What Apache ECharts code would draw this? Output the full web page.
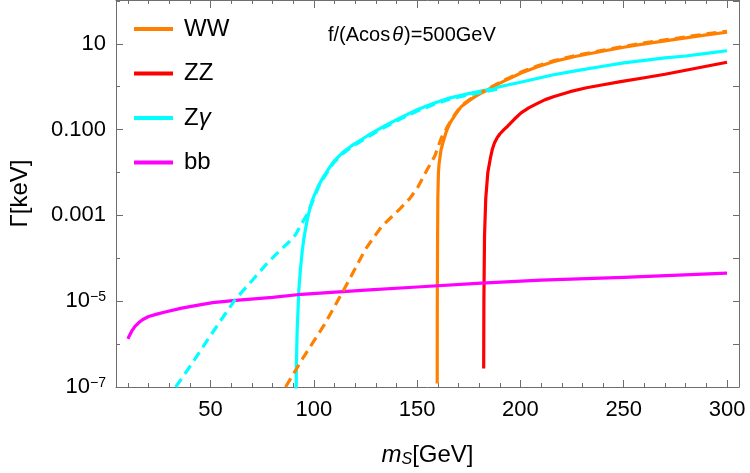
<!DOCTYPE html>
<html>
<head>
<meta charset="utf-8">
<script src="https://cdn.jsdelivr.net/npm/echarts@6.0.0/dist/echarts.min.js"></script>
<style>
  html, body { margin: 0; padding: 0; background: #fff; }
  #chart { width: 750px; height: 473px; }
</style>
</head>
<body>
<div id="chart"></div>
<script>
// decay widths Γ [keV] vs m_S [GeV]
const wwSolid = [
  [159.7, 1.2e-7], [159.75, 1e-5], [159.85, 1.6e-4], [160.0, 2.5e-3], [160.3, 1.0e-2],
  [160.6, 1.58e-2], [161.5, 3.3e-2], [162.5, 5.0e-2], [164, 8.7e-2], [166, 0.145],
  [168.5, 0.224], [171.4, 0.347], [175, 0.468], [178, 0.589], [181, 0.708],
  [184.2, 0.851], [188, 1.07], [192, 1.35], [196, 1.66], [200.3, 2.09],
  [208, 2.88], [216.3, 3.89], [227, 5.13], [239, 6.61], [250, 8.32],
  [260, 10], [270, 11.7], [280, 13.8], [290, 16.2], [300, 18.6]
];
const wwDashed = [
  [86.3, 1.0e-7], [95, 5.0e-7], [105, 2.8e-6], [112.8, 1.32e-5], [118, 3.8e-5],
  [124.8, 1.58e-4], [128.8, 3.0e-4], [132.8, 5.5e-4], [137.7, 9.3e-4], [142, 1.48e-3],
  [146.5, 2.5e-3], [150.5, 4.7e-3], [152.1, 6.6e-3], [155, 1.2e-2], [158.5, 2.4e-2],
  [161.8, 6.6e-2], [163.3, 8.7e-2], [165, 0.126], [168.5, 0.235], [171.4, 0.36],
  [175, 0.49], [178, 0.61], [181, 0.74], [184.2, 0.89], [188, 1.12],
  [192, 1.41], [196, 1.74], [200.3, 2.19], [208, 3.02], [216.3, 4.07],
  [227, 5.37], [239, 6.92], [250, 8.7], [260, 10.5], [270, 12.3],
  [280, 14.5], [290, 17], [300, 19.5]
];
const zzSolid = [
  [182.2, 2.7e-7], [182.3, 1e-5], [182.6, 3.2e-4], [183.2, 2.5e-3], [184.2, 1e-2],
  [185.5, 2.24e-2], [186.4, 3.5e-2], [187.4, 4.9e-2], [188.6, 6.3e-2], [190, 7.9e-2],
  [192, 0.1], [193.8, 0.12], [197, 0.174], [200.3, 0.245], [204, 0.32],
  [208, 0.403], [212, 0.50], [216.3, 0.594], [224, 0.766], [232, 0.948],
  [240, 1.11], [248.5, 1.31], [260, 1.62], [270, 1.95], [285, 2.69], [300, 3.72]
];
const zgSolid = [
  [91.2, 1e-9], [91.5, 3e-7], [91.9, 2e-6], [92.7, 1.8e-5], [93.5, 5.6e-5],
  [94.3, 1.4e-4], [95.1, 2.8e-4], [96, 5.0e-4], [97, 8.9e-4], [98, 1.4e-3],
  [99, 2.1e-3], [100, 2.8e-3], [101, 3.6e-3], [102.3, 5.0e-3], [104, 7.1e-3],
  [106, 1.0e-2], [108, 1.41e-2], [110, 1.9e-2], [114, 2.95e-2], [118, 4.1e-2],
  [126, 7.2e-2], [134, 0.12], [142, 0.19], [150, 0.29], [158, 0.41],
  [166, 0.55], [175, 0.69], [184, 0.85], [192, 1.05], [200, 1.27],
  [208, 1.55], [216, 1.9], [228, 2.4], [240, 3.0], [250, 3.6],
  [260, 4.1], [270, 4.7], [280, 5.2], [290, 6.0], [300, 6.9]
];
const zgDashed = [
  [33.1, 1.0e-7], [40, 3.0e-7], [50, 1.6e-6], [61.6, 1.05e-5], [70, 3.0e-5],
  [78, 8.3e-5], [84, 1.6e-4], [88, 2.4e-4], [91, 3.5e-4], [94, 6.3e-4],
  [97, 1.12e-3], [99, 1.9e-3], [101, 3.3e-3], [103, 5.5e-3], [104, 6.6e-3],
  [106, 9.3e-3], [108, 1.32e-2], [110, 1.78e-2], [114, 2.75e-2], [118, 3.85e-2],
  [126, 6.7e-2], [134, 0.112], [142, 0.178], [150, 0.27], [158, 0.385],
  [166, 0.515], [175, 0.645], [184, 0.79], [190, 0.9]
];
const bbSolid = [
  [10, 1.32e-6], [10.6, 1.55e-6], [11.8, 2.0e-6], [13.4, 2.6e-6], [15, 3.1e-6],
  [17, 3.7e-6], [20, 4.4e-6], [24, 5.0e-6], [28, 5.6e-6], [36, 6.9e-6],
  [44, 8.1e-6], [51, 9.3e-6], [62, 1.05e-5], [80, 1.23e-5], [94, 1.45e-5],
  [125, 1.82e-5], [150, 2.14e-5], [181, 2.63e-5], [210, 3.1e-5], [250, 3.6e-5],
  [300, 4.5e-5]
];

const legendNames = ['WW', 'ZZ', 'Zγ', 'bb'];
const xMinorTicks = [10, 20, 30, 40, 50, 60, 70, 80, 90, 100, 110, 120, 130, 140, 150,
  160, 170, 180, 190, 200, 210, 220, 230, 240, 250, 260, 270, 280, 290, 300];
const xMajorTicks = [50, 100, 150, 200, 250, 300];
const yDecades = [1e-7, 1e-6, 1e-5, 1e-4, 1e-3, 1e-2, 0.1, 1, 10, 100];
const yLabelValues = [1e-7, 1e-5, 1e-3, 0.1, 10];
const yLabelTexts = ['{b|10}{e|−7}', '{b|10}{e|−5}', '{b|0.001}', '{b|0.100}', '{b|10}'];

const FONT = '"Liberation Sans", Arial, sans-serif';
const frameColor = '#6e6e6e';
const colors = { ww: '#FF8000', zz: '#FF0000', zg: '#00FFFF', bb: '#FF00FF' };

const chart = echarts.init(document.getElementById('chart'));

function xAxisBase(position, ticks, len, showLine) {
  return {
    type: 'value', position: position, min: 4.2, max: 305.8,
    axisLine: { show: showLine, onZero: false, lineStyle: { color: frameColor, width: 1 } },
    axisTick: { show: true, inside: true, length: len, customValues: ticks,
      lineStyle: { color: frameColor, width: 1 } },
    axisLabel: { show: false },
    splitLine: { show: false }
  };
}
function yAxisBase(position, ticks, len, showLine) {
  return {
    type: 'log', logBase: 10, position: position, min: 1e-7, max: 105,
    axisLine: { show: showLine, onZero: false, lineStyle: { color: frameColor, width: 1 } },
    axisTick: { show: true, inside: true, length: len, customValues: ticks,
      lineStyle: { color: frameColor, width: 1 } },
    axisLabel: { show: false },
    splitLine: { show: false }
  };
}

const xMain = xAxisBase('bottom', xMinorTicks, 4, true);
xMain.axisLabel = { show: true, customValues: xMajorTicks, fontSize: 22, color: '#000',
  fontFamily: FONT, margin: 12 };
xMain.name = '{i|m}{s|S}{n|[GeV]}';
xMain.nameLocation = 'middle';
xMain.nameGap = 55;
xMain.nameTextStyle = {
  fontFamily: FONT, color: '#000',
  rich: {
    i: { fontSize: 24, fontStyle: 'italic', fontFamily: FONT, lineHeight: 26 },
    s: { fontSize: 16, fontStyle: 'italic', fontFamily: FONT, lineHeight: 16, verticalAlign: 'bottom' },
    n: { fontSize: 24, fontFamily: FONT, lineHeight: 26 }
  }
};

const yMain = yAxisBase('left', yDecades, 4, true);
yMain.axisLabel = {
  show: true, customValues: yLabelValues, margin: 10, color: '#000', fontFamily: FONT,
  formatter: function (v) {
    const k = yLabelValues.findIndex(function (t) { return Math.abs(Math.log10(t) - Math.log10(v)) < 0.01; });
    return k >= 0 ? yLabelTexts[k] : '';
  },
  rich: {
    b: { fontSize: 22, lineHeight: 22, fontFamily: FONT, color: '#000' },
    e: { fontSize: 14, lineHeight: 14, fontFamily: FONT, color: '#000', verticalAlign: 'top' }
  }
};
yMain.name = 'Γ[keV]';
yMain.nameLocation = 'middle';
yMain.nameGap = 84;
yMain.nameTextStyle = { fontSize: 24, fontFamily: FONT, color: '#000' };

function line(name, data, color, dashed) {
  return {
    name: name, type: 'line', data: data, xAxisIndex: 0, yAxisIndex: 0,
    showSymbol: false, symbol: 'none', smooth: false, clip: true,
    lineStyle: { color: color, width: 3.2, type: dashed ? [10, 6] : 'solid', join: 'round' },
    itemStyle: { color: color },
    emphasis: { disabled: true }
  };
}

chart.setOption({
  animation: false,
  backgroundColor: '#fff',
  grid: { left: 112, right: 11, top: 0, bottom: 85 },
  xAxis: [
    xMain,
    xAxisBase('bottom', xMajorTicks, 7, false),
    xAxisBase('top', xMinorTicks, 4, true),
    xAxisBase('top', xMajorTicks, 8, false)
  ],
  yAxis: [
    yMain,
    yAxisBase('left', yLabelValues, 7, false),
    yAxisBase('right', yDecades, 6, true)
  ],
  legend: {
    data: legendNames,
    orient: 'vertical', left: 129, top: 12,
    itemWidth: 39, itemHeight: 4, itemGap: 20.5, icon: 'rect',
    formatter: function (n) { return n === 'Zγ' ? '{a|Z}{g|γ}' : '{a|' + n + '}'; },
    textStyle: {
      fontFamily: FONT, fontSize: 24, color: '#000', padding: [0, 0, 0, 6],
      rich: {
        a: { fontSize: 24, fontFamily: FONT, color: '#000', lineHeight: 24 },
        g: { fontSize: 24, fontFamily: FONT, color: '#000', fontStyle: 'italic', lineHeight: 24 }
      }
    }
  },
  graphic: [{
    type: 'text', left: 328, top: 25,
    style: {
      text: '{a|f/(Acos}{t|θ}{a|)=500GeV}',
      rich: {
        a: { fontSize: 20, fontFamily: FONT, fill: '#000' },
        t: { fontSize: 20, fontFamily: FONT, fill: '#000', fontStyle: 'italic', padding: [0, 1, 0, 2] }
      }
    }
  }],
  series: [
    line('WW', wwSolid, colors.ww, false),
    line('ZZ', zzSolid, colors.zz, false),
    line('Zγ', zgSolid, colors.zg, false),
    line('bb', bbSolid, colors.bb, false),
    line('WW off-shell', wwDashed, colors.ww, true),
    line('Zγ off-shell', zgDashed, colors.zg, true)
  ]
});
</script>
</body>
</html>
